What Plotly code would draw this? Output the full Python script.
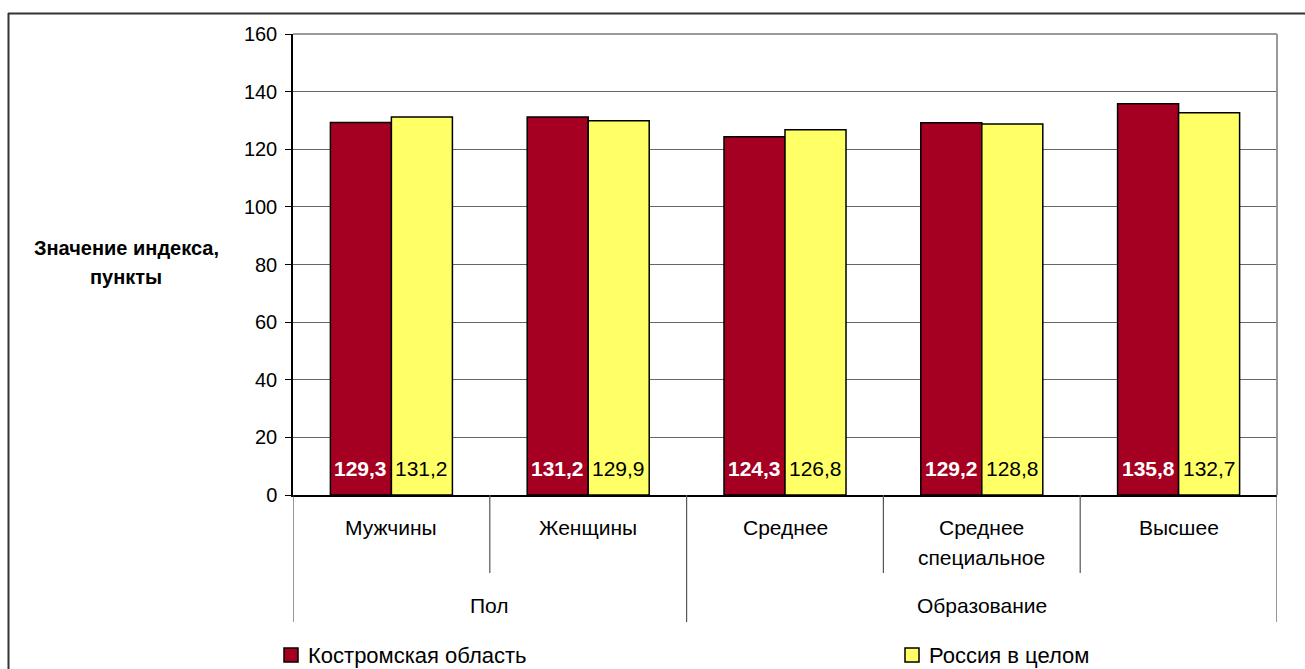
import plotly.graph_objects as go

categories = ["Мужчины", "Женщины", "Среднее", "Среднее специальное", "Высшее"]
category_lines = [["Мужчины"], ["Женщины"], ["Среднее"], ["Среднее", "специальное"], ["Высшее"]]
groups = ["Пол", "Образование"]
group_spans = [(0, 1), (2, 4)]
series_names = ["Костромская область", "Россия в целом"]
kostroma = [129.3, 131.2, 124.3, 129.2, 135.8]
russia = [131.2, 129.9, 126.8, 128.8, 132.7]
y_ticks = [0, 20, 40, 60, 80, 100, 120, 140, 160]

W, H = 1305, 669
L, R, T, B = 293, 1277, 34, 495
FONT = "Liberation Sans, Arial, sans-serif"
RED = "#A50021"
YELLOW = "#FFFF66"
colors = [RED, YELLOW]


def px_x(px):
    return (px - L) / (R - L)


def px_y(py):
    return (B - py) / (B - T)


fig = go.Figure()
for name, vals, col in zip(series_names, [kostroma, russia], colors):
    fig.add_trace(go.Bar(x=categories, y=vals, name=name, showlegend=False,
                         marker=dict(color=col, line=dict(color="black", width=1.5))))

annotations = []
shapes = []

# data labels
cat_w = (R - L) / len(categories)
bargap = 0.38
off = (1 - bargap) / 4 * cat_w
for i, c in enumerate(categories):
    annotations.append(dict(x=c, y=0, xref="x", yref="y", xshift=-off, yshift=27,
                            text=f"{kostroma[i]:.1f}".replace(".", ","), showarrow=False,
                            font=dict(family=FONT, size=21, color="white", weight="bold"),
                            xanchor="center", yanchor="middle"))
    annotations.append(dict(x=c, y=0, xref="x", yref="y", xshift=off, yshift=27,
                            text=f"{russia[i]:.1f}".replace(".", ","), showarrow=False,
                            font=dict(family=FONT, size=21, color="black"),
                            xanchor="center", yanchor="middle"))

# category labels
for i, lines in enumerate(category_lines):
    for j, ln in enumerate(lines):
        annotations.append(dict(x=i, y=px_y(527 + 30 * j), xref="x", yref="paper",
                                text=ln, showarrow=False, xanchor="center", yanchor="middle",
                                font=dict(family=FONT, size=21, color="black")))

# group labels
for g, (a, b) in zip(groups, group_spans):
    annotations.append(dict(x=(a + b) / 2, y=px_y(605), xref="x", yref="paper",
                            text=g, showarrow=False, xanchor="center", yanchor="middle",
                            font=dict(family=FONT, size=21, color="black")))

# separators
for k in range(len(categories) + 1):
    pos = k - 0.5
    is_group = any(abs(pos - (a - 0.5)) < 1e-9 or abs(pos - (b + 0.5)) < 1e-9 for a, b in group_spans)
    bottom = 622 if is_group else 573
    shapes.append(dict(type="line", xref="x", yref="paper", x0=pos, x1=pos,
                       y0=0, y1=px_y(bottom), line=dict(color="#555555", width=1.2)))

# plot area top/right border (gray)
shapes.append(dict(type="line", xref="paper", yref="paper", x0=0, x1=1, y0=1, y1=1,
                   line=dict(color="#999999", width=2)))
shapes.append(dict(type="line", xref="paper", yref="paper", x0=1, x1=1, y0=0, y1=1,
                   line=dict(color="#999999", width=2)))

# outer chart frame (left and top visible)
shapes.append(dict(type="line", xref="paper", yref="paper", x0=px_x(8.5), x1=px_x(8.5),
                   y0=px_y(13), y1=px_y(H + 5), line=dict(color="#333333", width=2)))
shapes.append(dict(type="line", xref="paper", yref="paper", x0=px_x(8), x1=px_x(W + 5),
                   y0=px_y(13.5), y1=px_y(13.5), line=dict(color="#333333", width=2)))

# legend (drawn manually)
legend_x = [284, 905]
for name, col, lx in zip(series_names, colors, legend_x):
    shapes.append(dict(type="rect", xref="paper", yref="paper",
                       x0=px_x(lx), x1=px_x(lx + 14), y0=px_y(648), y1=px_y(662),
                       fillcolor=col, line=dict(color="black", width=1.5)))
    annotations.append(dict(x=px_x(lx + 22), y=px_y(655), xref="paper", yref="paper",
                            text=name, showarrow=False, xanchor="left", yanchor="middle",
                            font=dict(family=FONT, size=22, color="black")))

# y axis title
annotations.append(dict(x=px_x(126), y=px_y(248), xref="paper", yref="paper",
                        text="Значение индекса,", showarrow=False, xanchor="center", yanchor="middle",
                        font=dict(family=FONT, size=20, color="black", weight="bold")))
annotations.append(dict(x=px_x(126), y=px_y(277), xref="paper", yref="paper",
                        text="пункты", showarrow=False, xanchor="center", yanchor="middle",
                        font=dict(family=FONT, size=20, color="black", weight="bold")))

fig.update_layout(
    width=W, height=H,
    margin=dict(l=L, r=W - R, t=T, b=H - B, pad=0, autoexpand=False),
    paper_bgcolor="white", plot_bgcolor="white",
    barmode="group", bargap=bargap, bargroupgap=0,
    font=dict(family=FONT, size=19, color="black"),
    showlegend=False,
    xaxis=dict(type="category", range=[-0.5, len(categories) - 0.5], showticklabels=False,
               showgrid=False, zeroline=False, showline=True, linecolor="black", linewidth=1.5,
               ticks=""),
    yaxis=dict(range=[0, 160], tickvals=y_ticks, showgrid=True, gridcolor="#666666", gridwidth=1,
               zeroline=False, showline=True, linecolor="black", linewidth=1.5,
               ticks="outside", ticklen=6, tickcolor="black", tickwidth=1.2,
               tickfont=dict(family=FONT, size=20, color="black"), ticklabelstandoff=4),
    annotations=annotations,
    shapes=shapes,
)

fig.write_html("out.html", config={"displayModeBar": False},
               post_script="document.body.style.margin='0';document.body.style.overflow='hidden';")
